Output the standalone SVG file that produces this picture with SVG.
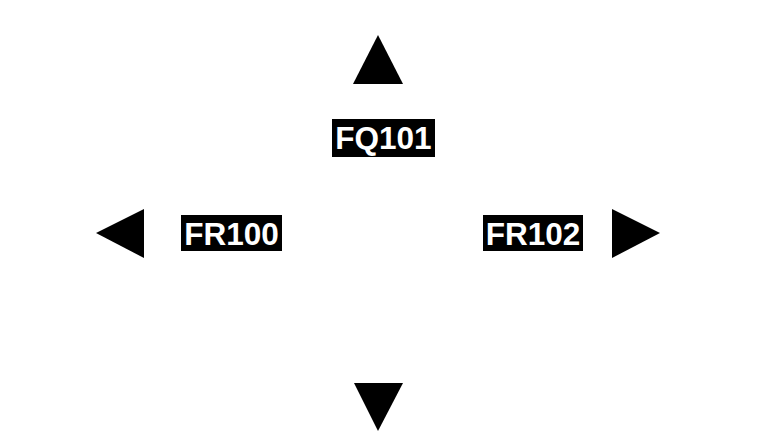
<svg xmlns="http://www.w3.org/2000/svg" width="757" height="443" viewBox="0 0 757 443">
<style>
.tri{fill:#000}
.box{fill:#000}
.lbl{fill:#fff;font-family:"Liberation Sans",Arial,sans-serif;font-weight:bold;font-size:31.5px;text-anchor:middle}
</style>
<rect width="757" height="443" fill="#fff"/>
<g id="connectors"></g>
<g id="arrow-up"><polygon class="tri" points="378,35 353,84 403,84"/></g>
<g id="arrow-left"><polygon class="tri" points="96,233 144,209 144,258"/></g>
<g id="arrow-right"><polygon class="tri" points="660,233 612,209 612,258"/></g>
<g id="arrow-down"><polygon class="tri" points="354,383 403,383 378,431"/></g>
<g id="FQ101"><rect class="box" x="332" y="119" width="103" height="38"/><text class="lbl" x="383.5" y="149">FQ101</text></g>
<g id="FR100"><rect class="box" x="181" y="215" width="101" height="36"/><text class="lbl" x="231.5" y="245">FR100</text></g>
<g id="FR102"><rect class="box" x="483" y="215" width="100" height="36"/><text class="lbl" x="533" y="245">FR102</text></g>
</svg>
